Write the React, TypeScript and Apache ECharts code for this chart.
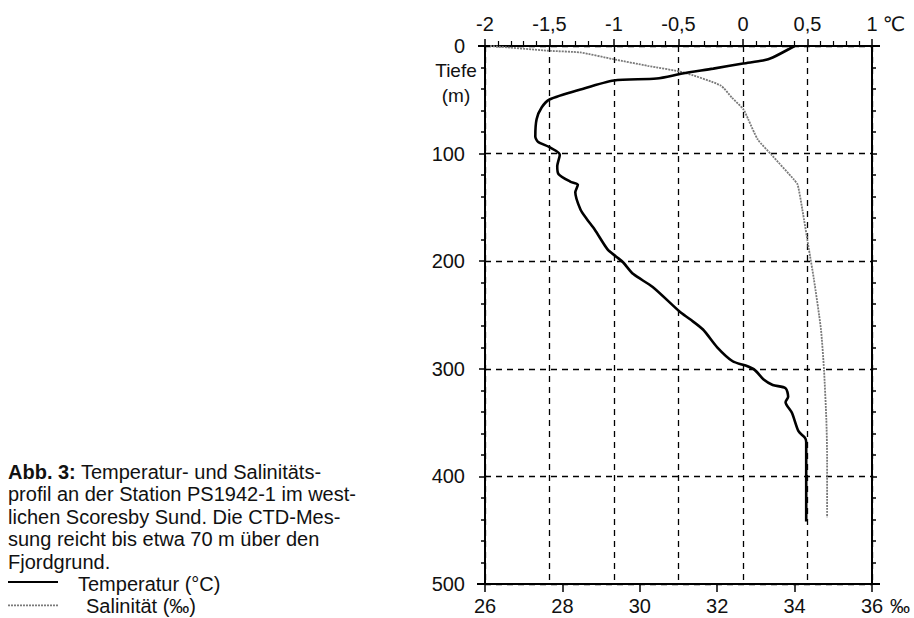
import React, { useEffect, useRef } from "react";
import * as echarts from "echarts";

// Temperature profile (°C) vs depth (m)
const tempDepth = [0, 10.7, 13.5, 16.3, 21, 25.6, 30.2, 32, 40.4, 49.7, 57, 68, 84, 89, 94, 101, 112, 119, 126, 129, 136, 152, 161, 170.5, 189, 196, 201, 212, 224, 247, 254, 263.5, 280, 293, 297, 301, 310, 315, 318, 326, 331, 341, 358, 364, 368, 442];
const tempValues = [0.4, 0.23, 0.155, 0, -0.23, -0.47, -0.67, -1.0, -1.26, -1.5, -1.56, -1.6, -1.61, -1.59, -1.5, -1.42, -1.44, -1.43, -1.34, -1.28, -1.3, -1.26, -1.21, -1.15, -1.05, -0.98, -0.93, -0.85, -0.7, -0.49, -0.41, -0.31, -0.2, -0.08, 0.02, 0.09, 0.16, 0.23, 0.33, 0.35, 0.33, 0.38, 0.43, 0.48, 0.49, 0.49];

// Salinity profile (‰) vs depth (m)
const salDepth = [0, 4.5, 6, 12.3, 18.4, 24.6, 36.7, 48, 59, 68, 87, 101, 124, 129, 152, 189, 217, 263, 301, 347, 381, 438];
const salValues = [26.13, 27.68, 28.46, 29.32, 30.2, 31.13, 32.09, 32.38, 32.68, 32.8, 33.05, 33.4, 33.98, 34.08, 34.2, 34.37, 34.5, 34.68, 34.76, 34.82, 34.84, 34.84];

// Axis ranges
const tempRange = [-2, 1];
const tempStep = 0.5;
const salRange = [26, 36];
const salStep = 2;
const depthRange = [0, 500];
const depthStep = 100;

const captionLines = [
  "{b|Abb. 3:} Temperatur- und Salinitäts-",
  "profil an der Station PS1942-1 im west-",
  "lichen Scoresby Sund. Die CTD-Mes-",
  "sung reicht bis etwa 70 m über den",
  "Fjordgrund.",
];
const legendLabels = ["Temperatur (°C)", "Salinität (‰)"];

const FONT = "'Liberation Sans', Arial, Helvetica, sans-serif";
const INK = "#111";
const SAL_COLOR = "#7a7a7a";
const CAP_SIZE = 20;
const LABEL_SIZE = 20;
const CAP_TOP = 472;
const CAP_STEP = 22.4;

export default function App() {
  const ref = useRef<HTMLDivElement>(null);

  useEffect(() => {
    if (!ref.current) return;
    const chart = echarts.init(ref.current, null, { renderer: "svg" });

    const labelStyle = { color: INK, fontSize: LABEL_SIZE, fontFamily: FONT };
    const dashed = { color: "#000", width: 1.3, type: [6, 5] as any };

    const graphics: any[] = [];
    captionLines.forEach((t, i) => {
      graphics.push({
        type: "text",
        x: 8,
        y: CAP_TOP + i * CAP_STEP,
        style: {
          text: t,
          fill: INK,
          fontSize: CAP_SIZE,
          fontFamily: FONT,
          verticalAlign: "middle",
          rich: { b: { fontWeight: "bold", fontSize: CAP_SIZE, fontFamily: FONT, fill: INK } },
        },
      });
    });
    const legY1 = CAP_TOP + 5 * CAP_STEP;
    const legY2 = CAP_TOP + 6 * CAP_STEP;
    graphics.push(
      { type: "line", shape: { x1: 8, y1: legY1 - 2, x2: 58, y2: legY1 - 2 }, style: { stroke: "#000", lineWidth: 2.2 } },
      { type: "text", x: 78, y: legY1, style: { text: legendLabels[0], fill: INK, fontSize: CAP_SIZE, fontFamily: FONT, verticalAlign: "middle" } },
      { type: "line", shape: { x1: 8, y1: legY2 - 1, x2: 58, y2: legY2 - 1 }, style: { stroke: SAL_COLOR, lineWidth: 1.8, lineDash: [2, 1] } },
      { type: "text", x: 86, y: legY2, style: { text: legendLabels[1], fill: INK, fontSize: CAP_SIZE, fontFamily: FONT, verticalAlign: "middle" } },
      { type: "text", x: 894, y: 24, style: { text: "℃", fill: INK, fontSize: LABEL_SIZE, fontFamily: "'DejaVu Sans', sans-serif", align: "center", verticalAlign: "middle" } },
      { type: "text", x: 900, y: 606, style: { text: "‰", fill: INK, fontSize: LABEL_SIZE, fontFamily: FONT, align: "center", verticalAlign: "middle" } },
      { type: "text", x: 456, y: 70, style: { text: "Tiefe", fill: INK, fontSize: 19, fontFamily: FONT, align: "center", verticalAlign: "middle" } },
      { type: "text", x: 456, y: 95, style: { text: "(m)", fill: INK, fontSize: 19, fontFamily: FONT, align: "center", verticalAlign: "middle" } },
      // axis line overhangs at the frame corners
      { type: "line", shape: { x1: 478, y1: 46, x2: 880, y2: 46 }, style: { stroke: "#000", lineWidth: 2 } },
      { type: "line", shape: { x1: 477, y1: 584, x2: 880, y2: 584 }, style: { stroke: "#000", lineWidth: 2 } }
    );

    chart.setOption({
      animation: false,
      backgroundColor: "#fff",
      grid: { left: 485, right: 42, top: 46, bottom: 34, containLabel: false },
      xAxis: [
        {
          type: "value",
          position: "top",
          min: tempRange[0],
          max: tempRange[1],
          interval: tempStep,
          axisLine: { show: true, onZero: false, lineStyle: { color: "#000", width: 2 } },
          axisTick: { show: true, length: 7, lineStyle: { color: "#000", width: 1.5 } },
          minorTick: { show: true, splitNumber: 5, length: 5, lineStyle: { color: "#000", width: 1.2 } },
          axisLabel: { ...labelStyle, margin: 12, formatter: (v: number) => String(v).replace(".", ",") },
          splitLine: { show: true, lineStyle: dashed },
        },
        {
          type: "value",
          position: "bottom",
          min: salRange[0],
          max: salRange[1],
          interval: salStep,
          axisLine: { show: true, onZero: false, lineStyle: { color: "#000", width: 2 } },
          axisTick: { show: true, length: 8, lineStyle: { color: "#000", width: 1.5 } },
          axisLabel: { ...labelStyle, margin: 12 },
          splitLine: { show: false },
        },
      ],
      yAxis: [
        {
          type: "value",
          inverse: true,
          position: "left",
          min: depthRange[0],
          max: depthRange[1],
          interval: depthStep,
          axisLine: { show: true, onZero: false, lineStyle: { color: "#000", width: 2 } },
          axisTick: { show: true, length: 6, lineStyle: { color: "#000", width: 1.5 } },
          minorTick: { show: true, splitNumber: 5, length: 4, lineStyle: { color: "#000", width: 1.5 } },
          axisLabel: { ...labelStyle, margin: 20 },
          splitLine: { show: true, lineStyle: dashed },
        },
        {
          type: "value",
          inverse: true,
          position: "right",
          min: depthRange[0],
          max: depthRange[1],
          interval: depthStep,
          axisLine: { show: true, onZero: false, lineStyle: { color: "#000", width: 2 } },
          axisTick: { show: true, length: 5, lineStyle: { color: "#000", width: 1.5 } },
          minorTick: { show: true, splitNumber: 5, length: 4, lineStyle: { color: "#000", width: 1.5 } },
          axisLabel: { show: false },
          splitLine: { show: false },
        },
      ],
      series: [
        {
          name: "Salinität (‰)",
          type: "line",
          xAxisIndex: 1,
          yAxisIndex: 0,
          data: salValues.map((v, i) => [v, salDepth[i]]),
          showSymbol: false,
          smooth: 0.2,
          lineStyle: { color: SAL_COLOR, width: 1.8, type: [2, 1] },
          z: 3,
        },
        {
          name: "Temperatur (°C)",
          type: "line",
          xAxisIndex: 0,
          yAxisIndex: 0,
          data: tempValues.map((v, i) => [v, tempDepth[i]]),
          showSymbol: false,
          smooth: 0.25,
          lineStyle: { color: "#000", width: 2.6 },
          z: 4,
        },
      ],
      graphic: graphics,
    });

    return () => chart.dispose();
  }, []);

  return (
    <div
      ref={ref}
      style={{ position: "absolute", left: 0, top: 0, width: 914, height: 618, background: "#fff" }}
    />
  );
}
